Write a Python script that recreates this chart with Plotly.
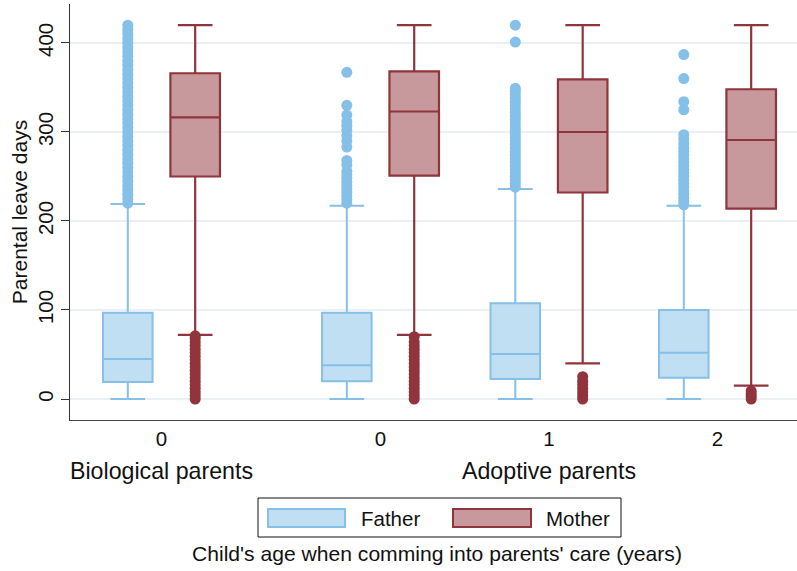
import plotly.graph_objects as go

# ---- data ----
group_pos = [0.0, 1.3, 2.3, 3.3]
tick_labels = ["0", "0", "1", "2"]
group_names = ["Biological parents", "Adoptive parents"]

father_q1 = [19, 20, 22.5, 24]
father_median = [45, 38, 50.5, 52]
father_q3 = [97, 97, 107.5, 100]
father_lower = [0, 0, 0, 0]
father_upper = [219, 217, 236, 217]

mother_q1 = [250, 251, 232, 214]
mother_median = [316.5, 323, 300, 291]
mother_q3 = [366, 368, 359, 348]
mother_lower = [72, 72, 40, 15]
mother_upper = [420, 420, 420, 420]

father_outliers = [
    [220, 225, 230, 235, 240, 245, 250, 255, 260, 265, 270, 275, 280, 285, 290,
     295, 300, 305, 310, 315, 320, 325, 330, 335, 340, 345, 350, 355, 360, 365,
     370, 375, 380, 385, 390, 395, 400, 405, 410, 415, 420],
    [220, 224, 228, 232, 236, 240, 244, 248, 252, 256, 263, 268, 283, 290, 296,
     302, 307, 312, 319, 330, 367],
    [238, 242, 246, 250, 254, 258, 262, 266, 270, 274, 278, 282, 286, 290, 294,
     298, 302, 306, 310, 314, 318, 322, 326, 330, 334, 338, 342, 346, 349, 401, 420],
    [218, 222, 226, 230, 234, 238, 242, 246, 250, 254, 258, 262, 266, 270, 274,
     278, 282, 287, 292, 297, 325, 334, 360, 387],
]
mother_outliers = [
    [0, 4, 8, 12, 16, 20, 24, 28, 32, 36, 40, 44, 48, 52, 56, 60, 64, 68, 71],
    [0, 4, 8, 12, 16, 20, 24, 28, 32, 36, 40, 44, 48, 52, 56, 60, 64, 70],
    [0, 4, 8, 12, 16, 20, 25],
    [0, 3, 6, 9],
]

# ---- style ----
F_FILL, F_LINE = "#c1dff2", "#84c0e8"
M_FILL, M_LINE = "#c8999c", "#90353b"
FONT = "Liberation Sans, Arial, sans-serif"
OFF = 0.2
BOXW = 0.294

father_x = [g - OFF for g in group_pos]
mother_x = [g + OFF for g in group_pos]

fig = go.Figure()
fig.add_trace(go.Box(
    name="Father", x=father_x, q1=father_q1, median=father_median, q3=father_q3,
    lowerfence=father_lower, upperfence=father_upper,
    width=BOXW, whiskerwidth=0.7, fillcolor=F_FILL,
    line=dict(color=F_LINE, width=2), boxpoints=False, showlegend=False,
))
fig.add_trace(go.Box(
    name="Mother", x=mother_x, q1=mother_q1, median=mother_median, q3=mother_q3,
    lowerfence=mother_lower, upperfence=mother_upper,
    width=BOXW, whiskerwidth=0.7, fillcolor=M_FILL,
    line=dict(color=M_LINE, width=2.2), boxpoints=False, showlegend=False,
))

fx, fy, mx, my = [], [], [], []
for i in range(4):
    fx += [father_x[i]] * len(father_outliers[i])
    fy += father_outliers[i]
    mx += [mother_x[i]] * len(mother_outliers[i])
    my += mother_outliers[i]
fig.add_trace(go.Scatter(x=fx, y=fy, mode="markers", showlegend=False,
                         marker=dict(color=F_LINE, size=11, line=dict(width=0))))
fig.add_trace(go.Scatter(x=mx, y=my, mode="markers", showlegend=False,
                         marker=dict(color=M_LINE, size=11, line=dict(width=0))))

W, H = 797, 571
L, R, T, B = 70, 0, 4, 151
pw, ph = W - L - R, H - T - B


def px(xp):
    return (xp - L) / pw


def py(yp):
    return (H - B - yp) / ph


shapes = [
    dict(type="rect", xref="paper", yref="paper", x0=px(258), x1=px(621),
         y0=py(498), y1=py(537), line=dict(color="#111", width=1), fillcolor="white"),
    dict(type="rect", xref="paper", yref="paper", x0=px(268), x1=px(345),
         y0=py(509), y1=py(527), line=dict(color=F_LINE, width=2), fillcolor=F_FILL),
    dict(type="rect", xref="paper", yref="paper", x0=px(453), x1=px(531),
         y0=py(509), y1=py(527), line=dict(color=M_LINE, width=2), fillcolor=M_FILL),
]
annotations = [
    dict(text="Father", xref="paper", yref="paper", x=px(359), y=py(518),
         xanchor="left", yanchor="middle", showarrow=False, font=dict(size=20.5)),
    dict(text="Mother", xref="paper", yref="paper", x=px(544), y=py(518),
         xanchor="left", yanchor="middle", showarrow=False, font=dict(size=20.5)),
    dict(text="Child's age when comming into parents' care (years)", xref="paper",
         yref="paper", x=px(437), y=py(553), xanchor="center", yanchor="middle",
         showarrow=False, font=dict(size=21.1)),
    dict(text=group_names[0], xref="x", yref="paper", x=group_pos[0], y=py(471),
         xanchor="center", yanchor="middle", showarrow=False, font=dict(size=23.2)),
    dict(text=group_names[1], xref="x", yref="paper", x=group_pos[2], y=py(471),
         xanchor="center", yanchor="middle", showarrow=False, font=dict(size=23.2)),
]

fig.update_layout(
    width=W, height=H, margin=dict(l=L, r=R, t=T, b=B, autoexpand=False),
    paper_bgcolor="white", plot_bgcolor="white",
    boxmode="overlay", showlegend=False,
    font=dict(family=FONT, color="#111", size=20),
    shapes=shapes, annotations=annotations,
    xaxis=dict(range=[-0.543, 3.772], tickvals=group_pos, ticktext=tick_labels,
               showgrid=False, zeroline=False, showline=True, linecolor="#444",
               linewidth=1.3, ticks="", tickfont=dict(size=20.5), automargin=False),
    yaxis=dict(range=[-23.6, 443.8], tickvals=[0, 100, 200, 300, 400],
               showgrid=True, gridcolor="#eaf0f5", gridwidth=1.5, zeroline=False,
               showline=True, linecolor="#333", linewidth=1.3,
               ticks="outside", ticklen=8, tickcolor="#333", tickwidth=1.3,
               tickangle=-90, tickfont=dict(size=20.5), automargin=False,
               title=dict(text="Parental leave days", font=dict(size=21), standoff=0)),
)

fig.write_html(
    "out.html",
    config={"displayModeBar": False},
    post_script="document.body.style.margin='0';document.body.style.padding='0';",
)
